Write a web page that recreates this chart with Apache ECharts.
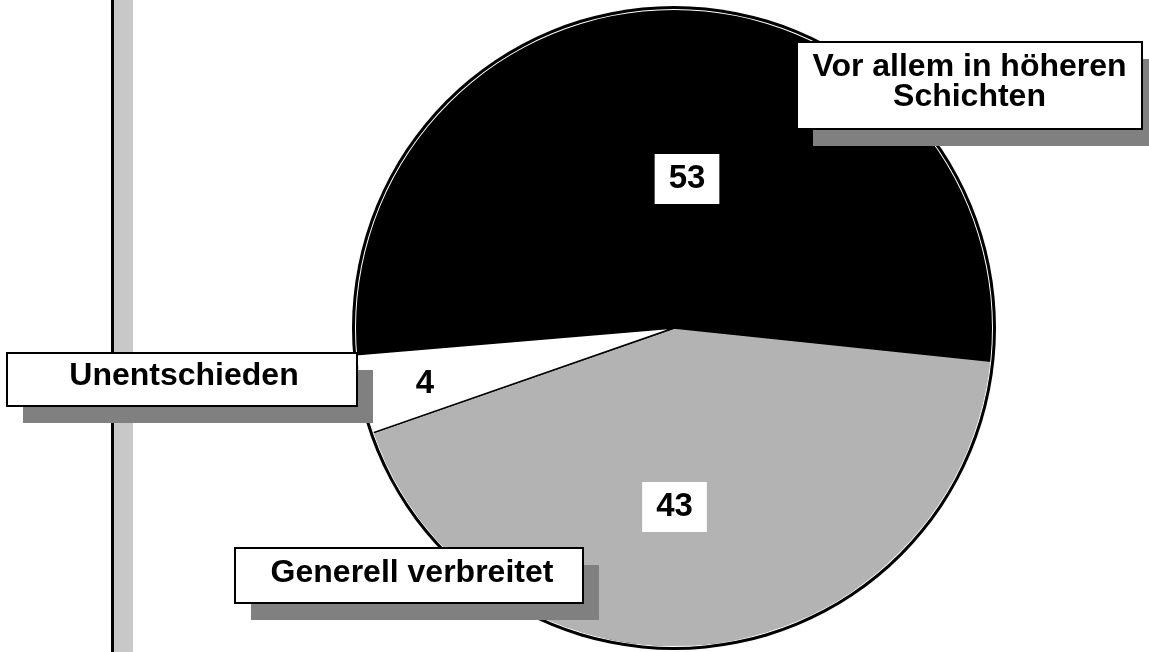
<!DOCTYPE html>
<html>
<head>
<meta charset="utf-8">
<script src="https://cdn.jsdelivr.net/npm/echarts@6/dist/echarts.min.js"></script>
<style>
html,body{margin:0;padding:0;background:#fff;}
#chart{width:1149px;height:652px;}
</style>
</head>
<body>
<div id="chart"></div>
<script>
// ---- data ----
const categories = ['Vor allem in höheren Schichten', 'Generell verbreitet', 'Unentschieden'];
const values = [53, 43, 4];
const nameLabels = ['Vor allem in höheren\nSchichten', 'Generell verbreitet', 'Unentschieden'];

// ---- styling / layout ----
const sliceColors = ['#000000', '#b3b3b3', '#ffffff'];
const valueLabelPos = [[687, 179], [674.5, 507], [425, 384]];
const nameBoxes = [
  {x: 797, y: 42, w: 345, h: 87, tx: 969.5, ty: 82},
  {x: 235, y: 548, w: 348, h: 55, tx: 412, ty: 573},
  {x: 7, y: 353, w: 350, h: 53, tx: 184, ty: 376}
];
const FONT = '"Liberation Sans", Arial, sans-serif';
const center = [674, 328];

const chart = echarts.init(document.getElementById('chart'), null, {renderer: 'canvas'});

const graphics = [
  {type: 'rect', z: 1, shape: {x: 111, y: 0, width: 3, height: 652}, style: {fill: '#000'}},
  {type: 'rect', z: 1, shape: {x: 114, y: 0, width: 19, height: 652}, style: {fill: '#c8c8c8'}}
];
nameBoxes.forEach((b, i) => {
  graphics.push({type: 'rect', z: 100, shape: {x: b.x + 16, y: b.y + 17, width: b.w, height: b.h}, style: {fill: '#808080'}});
  graphics.push({type: 'rect', z: 101, shape: {x: b.x, y: b.y, width: b.w, height: b.h}, style: {fill: '#fff', stroke: '#000', lineWidth: 2}});
  graphics.push({type: 'text', z: 102, x: b.tx, y: b.ty, style: {
    text: nameLabels[i], fill: '#000', font: 'bold 32px ' + FONT,
    align: 'center', verticalAlign: 'middle', lineHeight: 30
  }});
});

chart.setOption({
  animation: false,
  backgroundColor: '#fff',
  graphic: graphics,
  series: [
    {
      type: 'pie', silent: true, z: 2, center: center, radius: 322,
      label: {show: false}, labelLine: {show: false},
      data: [{value: 1, itemStyle: {color: '#000'}}]
    },
    {
      type: 'pie', silent: true, z: 3, center: center, radius: 319,
      startAngle: 184.8, clockwise: true, avoidLabelOverlap: false,
      itemStyle: {borderColor: '#000', borderWidth: 1.5},
      label: {
        show: true, position: 'inside', formatter: '{c}',
        fontFamily: FONT, fontWeight: 'bold', fontSize: 33, color: '#000',
        backgroundColor: '#fff', padding: [8, 14, 8, 14], lineHeight: 34
      },
      labelLine: {show: false},
      labelLayout: function (p) {
        const pos = valueLabelPos[p.dataIndex];
        return {x: pos[0], y: pos[1], align: 'center', verticalAlign: 'middle'};
      },
      data: categories.map((c, i) => ({
        name: c, value: values[i],
        itemStyle: {color: sliceColors[i]},
        label: i === 2 ? {backgroundColor: 'transparent'} : {}
      }))
    },
    {
      type: 'pie', silent: true, z: 4, center: center, radius: [318, 319],
      label: {show: false}, labelLine: {show: false},
      data: [{value: 1, itemStyle: {color: '#fff'}}]
    }
  ]
});
</script>
</body>
</html>
